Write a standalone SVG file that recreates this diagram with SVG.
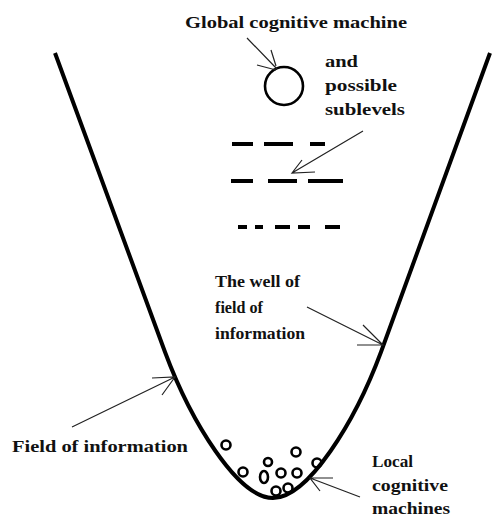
<svg xmlns="http://www.w3.org/2000/svg" width="497" height="518" viewBox="0 0 497 518">
<style>
text{font-family:"Liberation Serif","Times New Roman",serif;font-weight:bold;font-size:16.5px;fill:#111}
.well{fill:none;stroke:#000;stroke-width:4;stroke-linejoin:round}
.dash{stroke:#000;stroke-width:4}
.arr{fill:none;stroke:#222;stroke-width:1.2}
.c{fill:none;stroke:#000;stroke-width:2.6}
</style>
<rect width="497" height="518" fill="#fff"/>
<g id="well">
<path class="well" d="M55,53 L165,352 C191,422 238,498 273,498 C308,498 355,422 381,352 L490,53"/>
</g>
<g id="global-machine">
<text x="185" y="28" textLength="222" lengthAdjust="spacingAndGlyphs">Global cognitive machine</text>
<circle class="c" cx="284" cy="86" r="19" stroke-width="3.5"/>
</g>
<g id="sublevels">
<text x="325" y="67" textLength="33" lengthAdjust="spacingAndGlyphs">and</text>
<text x="325" y="91" textLength="72" lengthAdjust="spacingAndGlyphs">possible</text>
<text x="325" y="115" textLength="80" lengthAdjust="spacingAndGlyphs">sublevels</text>
<path class="dash" d="M232,144H253M264,144H293M310,144H325"/>
<path class="dash" d="M231,181H253M268,181H297M308,181H343"/>
<path class="dash" d="M238,227H247M255,227H263M275,227H290M298,227H310M325,227H340"/>
</g>
<g id="well-label">
<text x="215" y="287" textLength="85" lengthAdjust="spacingAndGlyphs">The well of</text>
<text x="215" y="313" textLength="48" lengthAdjust="spacingAndGlyphs">field of</text>
<text x="215" y="339" textLength="90" lengthAdjust="spacingAndGlyphs">information</text>
</g>
<g id="field-label">
<text x="12" y="452" textLength="176" lengthAdjust="spacingAndGlyphs">Field of information</text>
</g>
<g id="local-machines">
<circle class="c" cx="226" cy="445" r="4.5"/>
<circle class="c" cx="296" cy="452" r="4.5"/>
<circle class="c" cx="268" cy="462" r="4"/>
<circle class="c" cx="243" cy="472" r="4.5"/>
<ellipse class="c" cx="264" cy="477" rx="4" ry="6"/>
<circle class="c" cx="281" cy="473" r="4.5"/>
<circle class="c" cx="297" cy="473" r="4.5"/>
<circle class="c" cx="317" cy="463" r="4.5"/>
<circle class="c" cx="276" cy="491" r="4.5"/>
<circle class="c" cx="288" cy="488" r="4.5"/>
<text x="372" y="467" textLength="41" lengthAdjust="spacingAndGlyphs">Local</text>
<text x="372" y="491" textLength="76" lengthAdjust="spacingAndGlyphs">cognitive</text>
<text x="372" y="514" textLength="78" lengthAdjust="spacingAndGlyphs">machines</text>
</g>
<g id="connectors">
<path class="arr" d="M247,38L277,69M271,50L276,66M257,65L276,70"/>
<path class="arr" d="M363,131L292,173M302,160L292,173L315,172"/>
<path class="arr" d="M307,307L383,345M363,325L383,345L357,345"/>
<path class="arr" d="M72,427L175,377M152,378L175,377L162,395"/>
<path class="arr" d="M360,497L310,478M333,478L310,478L320,491"/>
</g>
</svg>
